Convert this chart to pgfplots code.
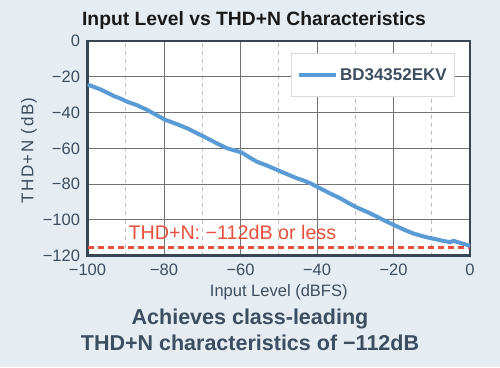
\documentclass[border=0pt]{standalone}
\usepackage{pgfplots}
\pgfplotsset{compat=1.18}
\usepackage{fontspec}
\setmainfont{Liberation Sans}
\newfontfamily\spacedfont[LetterSpace=9]{Liberation Sans}
\definecolor{bgc}{RGB}{230,237,242}
\definecolor{slate}{RGB}{60,78,95}
\definecolor{framec}{RGB}{55,70,82}
\definecolor{curvec}{RGB}{91,155,213}
\definecolor{redc}{RGB}{232,80,58}
\definecolor{gridc}{RGB}{115,115,115}
\definecolor{minorc}{RGB}{190,190,190}
\begin{document}
\begin{tikzpicture}[x=1pt,y=1pt]
\fill[bgc] (0,0) rectangle (500,367);
\node[anchor=base,font=\bfseries\fontsize{19.3}{19.3}\selectfont,text=black!90] at (254,341) {Input Level vs THD+N Characteristics};
\begin{axis}[
  at={(87.5pt,111.5pt)}, anchor=south west,
  scale only axis, width=382.5pt, height=214.3pt,
  xmin=-100, xmax=0, ymin=-120, ymax=0,
  xtick={-100,-80,-60,-40,-20,0},
  xticklabels={−100,−80,−60,−40,−20,0},
  ytick={-120,-100,-80,-60,-40,-20,0},
  yticklabels={−120,−100,−80,−60,−40,−20,0},
  minor xtick={-90,-70,-50,-30,-10},
  grid=both,
  major grid style={gridc, line width=1pt},
  minor grid style={minorc, dash pattern=on 4pt off 4pt, line width=1pt},
  axis line style={framec, line width=2.2pt},
  axis background/.style={fill=white},
  tick style={draw=none},
  ticklabel style={font=\fontsize{16.5}{16.5}\selectfont, text=slate},
  yticklabel style={xshift=-4pt},
  xticklabel style={yshift=-5pt},
  label style={font=\fontsize{16.5}{16.5}\selectfont, text=slate},
  xlabel={Input Level (dBFS)},
  ylabel={THD+N (dB)},
  xlabel style={at={(axis description cs:0.5,0)}, anchor=center, yshift=-36.5pt},
  ylabel style={at={(axis description cs:-0.153,0.49)}, anchor=center, font=\spacedfont\fontsize{17}{17}\selectfont},
  legend style={at={(rel axis cs:0.961,0.945)}, anchor=north east,
    draw=gray!30, fill=white, line width=0.6pt,
    font=\bfseries\fontsize{17}{17}\selectfont, text=slate,
    inner xsep=6pt, inner ysep=13pt},
  legend image code/.code={\draw[#1] (0pt,0pt) -- (37pt,0pt);},
]
\addplot[color=redc, line width=2.2pt, dash pattern=on 6pt off 4pt, forget plot]
  coordinates {(-100,-115.5) (0,-115.5)};
\addplot[color=curvec, line width=4pt, line join=round] coordinates {
(-100,-24.3) (-98.3,-25.6) (-96.6,-27.0) (-94.8,-28.9) (-93.1,-30.7) (-91.3,-32.2)
(-89.6,-33.9) (-87.0,-35.9) (-84.4,-38.5) (-82.0,-41.3) (-79.6,-44.1)
(-76.8,-46.3) (-73.9,-48.8) (-71.3,-51.6) (-68.7,-54.4) (-66.1,-57.3)
(-63.5,-60.0) (-61.8,-61.0) (-59.7,-62.3) (-57.7,-65.0) (-55.7,-67.5)
(-53.0,-69.7) (-50.4,-72.1) (-47.8,-74.5) (-45.2,-76.8) (-43.4,-78.1)
(-41.7,-79.6) (-40.0,-81.5) (-37.0,-84.8) (-33.9,-88.0) (-31.7,-90.7)
(-29.6,-93.1) (-26.9,-95.6) (-24.3,-98.3) (-22.0,-100.8) (-19.8,-103.0)
(-17.3,-105.5) (-14.8,-107.7) (-11.7,-109.6) (-8.7,-111.0) (-6.9,-111.9)
(-5.2,-112.5) (-4.3,-111.8) (-2.6,-112.9) (-1.2,-113.8) (0,-114.6)
};
\addlegendentry{BD34352EKV}
\node[anchor=base west, text=redc, font=\fontsize{19.7}{19.7}\selectfont] at (axis cs:-90.2,-111) {THD+N: −112dB or less};
\end{axis}
\begin{scope}[font=\bfseries\fontsize{21.5}{21.5}\selectfont]
\node[anchor=base,text=slate] at (250,42.7) {Achieves class-leading};
\node[anchor=base,text=slate] at (250,17) {THD+N characteristics of −112dB};
\end{scope}
\pgfresetboundingbox
\path (0,0) rectangle (500,367);
\end{tikzpicture}
\end{document}
